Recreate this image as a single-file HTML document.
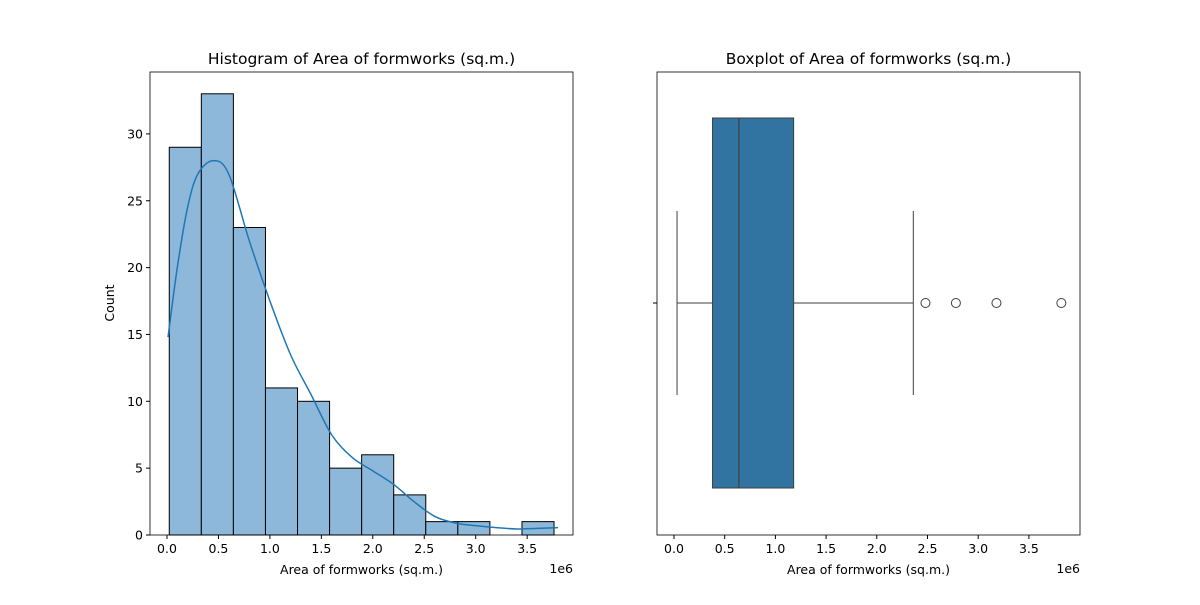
<!DOCTYPE html>
<html><head><meta charset="utf-8"><style>
body{margin:0;background:#fff;}
svg text{font-family:"DejaVu Sans","Liberation Sans",sans-serif;fill:#000;}
</style></head><body>
<svg id="c" width="1200" height="600" xmlns="http://www.w3.org/2000/svg"></svg>
<script>
const binEdgesStart = 0.022;
const binWidth = 0.3116;
const counts = [29,33,23,11,10,5,6,3,1,1,0,1];
const kdeX = [0.01,0.1,0.2,0.3,0.45,0.6,0.8,1.0,1.2,1.4,1.6,1.8,2.0,2.2,2.4,2.6,2.8,3.0,3.2,3.4,3.6,3.8];
const kdeY = [14.8,20,24.5,27,28,27,22,17.5,13.5,10.5,7.5,5.8,4.8,3.8,2.5,1.4,0.9,0.7,0.55,0.45,0.5,0.55];
const xTicks = [0,0.5,1.0,1.5,2.0,2.5,3.0,3.5];
const yTicks = [0,5,10,15,20,25,30];
const boxStats = [0.03,0.38,0.64,1.18,2.36];
const outliers = [2.48,2.78,3.18,3.82];

const svg=document.getElementById('c');
const NS='http://www.w3.org/2000/svg';
function el(t,a,parent){const e=document.createElementNS(NS,t);for(const k in a)e.setAttribute(k,a[k]);(parent||svg).appendChild(e);return e;}
const L={x0:150,x1:573,y0:72,y1:535};
const lx=v=>167+v*102.9, ly=v=>535-v*13.37;
const R={x0:657,x1:1080,y0:72,y1:535};
const rx=v=>674+v*101.4;

counts.forEach((c,i)=>{
  if(c===0)return;
  const a=lx(binEdgesStart+i*binWidth), b=lx(binEdgesStart+(i+1)*binWidth);
  const r=el('rect',{x:a,y:ly(c),width:b-a,height:ly(0)-ly(c),fill:'#8db8da',stroke:'#000','stroke-width':1});
  
  
});
const pts=kdeX.map((x,i)=>[lx(x),ly(kdeY[i])]);
let d='M'+pts[0][0]+','+pts[0][1];
for(let i=0;i<pts.length-1;i++){
  const p0=pts[Math.max(0,i-1)],p1=pts[i],p2=pts[i+1],p3=pts[Math.min(pts.length-1,i+2)];
  const c1=[p1[0]+(p2[0]-p0[0])/6,p1[1]+(p2[1]-p0[1])/6];
  const c2=[p2[0]-(p3[0]-p1[0])/6,p2[1]-(p3[1]-p1[1])/6];
  d+=`C${c1[0]},${c1[1]} ${c2[0]},${c2[1]} ${p2[0]},${p2[1]}`;
}
const kp=el('path',{d:d,fill:'none',stroke:'#1f77b4','stroke-width':1.5});



function frame(A,name){const r=el('rect',{x:A.x0,y:A.y0,width:A.x1-A.x0,height:A.y1-A.y0,fill:'none',stroke:'#000','stroke-width':0.8});
}
frame(L,'histogram-frame');frame(R,'boxplot-frame');

function xt(A,f,prefix){xTicks.forEach(v=>{const x=f(v);el('line',{x1:x,x2:x,y1:A.y1,y2:A.y1+4,stroke:'#000'});
const t=el('text',{x:x,y:A.y1+18,'font-size':12.5,'text-anchor':'middle'});t.textContent=v.toFixed(1);
});
const e=el('text',{x:A.x1,y:A.y1+38,'font-size':12.5,'text-anchor':'end'});e.textContent='1e6';

const xl=el('text',{x:(A.x0+A.x1)/2,y:A.y1+39,'font-size':12.5,'text-anchor':'middle'});xl.textContent='Area of formworks (sq.m.)';
}
xt(L,lx,'hist');xt(R,rx,'box');
yTicks.forEach(v=>{const y=ly(v);el('line',{x1:L.x0-4,x2:L.x0,y1:y,y2:y,stroke:'#000'});
const t=el('text',{x:L.x0-7,y:y+4.5,'font-size':12.5,'text-anchor':'end'});t.textContent=v;
});
const yl=el('text',{x:114,y:303,'font-size':12.5,'text-anchor':'middle',transform:'rotate(-90 114 303)'});yl.textContent='Count';

[[L,'Histogram of Area of formworks (sq.m.)','hist-title'],[R,'Boxplot of Area of formworks (sq.m.)','box-title']].forEach(([A,s,n])=>{
const t=el('text',{x:(A.x0+A.x1)/2,y:64,'font-size':15.5,'text-anchor':'middle'});t.textContent=s;
});
const cy=303;
el('line',{x1:R.x0-4,x2:R.x0,y1:cy,y2:cy,stroke:'#000'});
const g=el('g',{});
el('line',{x1:rx(boxStats[0]),x2:rx(boxStats[1]),y1:cy,y2:cy,stroke:'#3f3f3f'},g);
el('line',{x1:rx(boxStats[3]),x2:rx(boxStats[4]),y1:cy,y2:cy,stroke:'#3f3f3f'},g);
el('line',{x1:rx(boxStats[0]),x2:rx(boxStats[0]),y1:211,y2:395,stroke:'#3f3f3f'},g);
el('line',{x1:rx(boxStats[4]),x2:rx(boxStats[4]),y1:211,y2:395,stroke:'#3f3f3f'},g);
el('rect',{x:rx(boxStats[1]),y:118,width:rx(boxStats[3])-rx(boxStats[1]),height:370,fill:'#3274a1',stroke:'#3f3f3f'},g);
el('line',{x1:rx(boxStats[2]),x2:rx(boxStats[2]),y1:118,y2:488,stroke:'#3f3f3f','stroke-width':1.2},g);
outliers.forEach(v=>{const c=el('circle',{cx:rx(v),cy:cy,r:4.5,fill:'none',stroke:'#3f3f3f'},g);
});
</script>
</body></html>
